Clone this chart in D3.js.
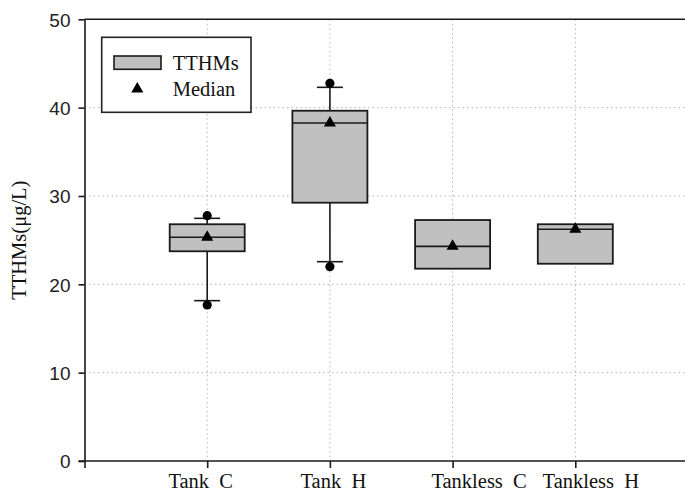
<!DOCTYPE html>
<html>
<head>
<meta charset="utf-8">
<script src="https://cdn.jsdelivr.net/npm/d3@7"></script>
<style>
  html, body { margin: 0; padding: 0; background: #fff; }
  svg { display: block; }
</style>
</head>
<body>
<svg id="chart" width="685" height="491"></svg>
<script>
// Groups along the x axis
const categories = ["Tank  C", "Tank  H", "Tankless  C", "Tankless  H"];
// Box statistics per group (µg/L)
const q1Values     = [23.74, 29.24, 21.77, 22.33];
const medianValues = [25.32, 38.26, 24.30, 26.23];
const q3Values     = [26.80, 39.65, 27.28, 26.80];
const whiskerLow   = [18.15, 22.56, null, null];
const whiskerHigh  = [27.47, 42.30, null, null];
const outlierLow   = [17.66, 22.00, null, null];
const outlierHigh  = [27.77, 42.76, null, null];
// Axis ticks
const yTicks = [0, 10, 20, 30, 40, 50];
const gridYTicks = [10, 20, 30, 40];
const legendLabels = ["TTHMs", "Median"];

const svg = d3.select("#chart");
const W = 685, H = 491;

const x = d3.scaleLinear().domain([0, 5]).range([84.5, 698]);
const y = d3.scaleLinear().domain([0, 50]).range([461, 19.3]);
const pos = categories.map((_, i) => i + 1);
const xRight = W;

const serif = "'Liberation Serif', 'Times New Roman', serif";
const sans = "'Liberation Sans', Arial, sans-serif";
const ink = "#1a1a1a";

// Dotted grid
const grid = svg.append("g").attr("stroke", "#b4b4b4").attr("stroke-width", 1)
  .attr("stroke-dasharray", "1.5,3");
grid.selectAll("line.h").data(gridYTicks).join("line").attr("class", "h")
  .attr("x1", x(0)).attr("x2", xRight).attr("y1", d => y(d)).attr("y2", d => y(d));
grid.selectAll("line.v").data(pos).join("line").attr("class", "v")
  .attr("x1", d => x(d)).attr("x2", d => x(d)).attr("y1", y(50)).attr("y2", y(0));

// Top frame line
svg.append("line")
  .attr("x1", x(0)).attr("x2", xRight).attr("y1", y(50)).attr("y2", y(50))
  .attr("stroke", ink).attr("stroke-width", 1.6);

// Y axis
const yAxis = svg.append("g").attr("transform", `translate(${x(0)},0)`)
  .call(d3.axisLeft(y).tickValues(yTicks).tickSize(6).tickSizeOuter(0).tickPadding(8));
yAxis.select(".domain").attr("stroke", ink).attr("stroke-width", 1.6);
yAxis.selectAll(".tick line").attr("stroke", ink).attr("stroke-width", 1.6);
yAxis.selectAll(".tick text").attr("font-family", sans).attr("font-size", 19)
  .attr("fill", "#222").attr("dy", "0.36em");

// X axis (tick at 0 continues the y axis below the baseline)
const labelShift = [-7, 3, 26, 15];
const xAxis = svg.append("g").attr("transform", `translate(0,${y(0)})`)
  .call(d3.axisBottom(x).tickValues([0].concat(pos)).tickSize(7).tickSizeOuter(0)
    .tickFormat(d => d === 0 ? "" : categories[d - 1]));
xAxis.select(".domain").attr("d", `M${x(0) - 6},0H${xRight}`)
  .attr("stroke", ink).attr("stroke-width", 1.6);
xAxis.selectAll(".tick line").attr("stroke", ink).attr("stroke-width", 1.6);
xAxis.selectAll(".tick text")
  .attr("font-family", serif).attr("font-size", 20.5).attr("fill", "#111")
  .attr("y", 27).attr("dy", 0)
  .attr("x", d => d === 0 ? 0 : labelShift[d - 1])
  .style("white-space", "pre");

// Y axis title
svg.append("text")
  .attr("transform", `translate(26,${(y(0) + y(50)) / 2}) rotate(-90)`)
  .attr("text-anchor", "middle")
  .attr("font-family", serif).attr("font-size", 20.5).attr("fill", "#111")
  .text("TTHMs(μg/L)");

// Boxes
const boxW = 75, capW = 26;
const groups = svg.append("g").selectAll("g").data(pos).join("g");

groups.each(function (p, i) {
  const g = d3.select(this);
  const cx = x(p);
  if (whiskerLow[i] != null) {
    g.append("line").attr("x1", cx).attr("x2", cx)
      .attr("y1", y(q1Values[i])).attr("y2", y(whiskerLow[i]))
      .attr("stroke", ink).attr("stroke-width", 1.6);
    g.append("line").attr("x1", cx - capW / 2).attr("x2", cx + capW / 2)
      .attr("y1", y(whiskerLow[i])).attr("y2", y(whiskerLow[i]))
      .attr("stroke", ink).attr("stroke-width", 1.6);
  }
  if (whiskerHigh[i] != null) {
    g.append("line").attr("x1", cx).attr("x2", cx)
      .attr("y1", y(q3Values[i])).attr("y2", y(whiskerHigh[i]))
      .attr("stroke", ink).attr("stroke-width", 1.6);
    g.append("line").attr("x1", cx - capW / 2).attr("x2", cx + capW / 2)
      .attr("y1", y(whiskerHigh[i])).attr("y2", y(whiskerHigh[i]))
      .attr("stroke", ink).attr("stroke-width", 1.6);
  }
  g.append("rect")
    .attr("x", cx - boxW / 2).attr("width", boxW)
    .attr("y", y(q3Values[i])).attr("height", y(q1Values[i]) - y(q3Values[i]))
    .attr("fill", "#c0c0c0").attr("stroke", ink).attr("stroke-width", 1.8);
  g.append("line").attr("x1", cx - boxW / 2).attr("x2", cx + boxW / 2)
    .attr("y1", y(medianValues[i])).attr("y2", y(medianValues[i]))
    .attr("stroke", ink).attr("stroke-width", 1.6);
  [outlierLow[i], outlierHigh[i]].forEach(v => {
    if (v != null) {
      g.append("circle").attr("cx", cx).attr("cy", y(v)).attr("r", 4.6).attr("fill", "#000");
    }
  });
  g.append("path")
    .attr("transform", `translate(${cx},${y(medianValues[i])})`)
    .attr("d", d3.symbol(d3.symbolTriangle, 64)())
    .attr("fill", "#000");
});

// Legend
const lg = svg.append("g");
lg.append("rect").attr("x", 101.7).attr("y", 37.3).attr("width", 149.3).attr("height", 75)
  .attr("fill", "#fff").attr("stroke", "#222").attr("stroke-width", 1.6);
lg.append("rect").attr("x", 114).attr("y", 56).attr("width", 47).attr("height", 13.3)
  .attr("fill", "#c0c0c0").attr("stroke", ink).attr("stroke-width", 1.6);
lg.append("path").attr("transform", "translate(137.3,89)")
  .attr("d", d3.symbol(d3.symbolTriangle, 64)()).attr("fill", "#000");
lg.selectAll("text").data(legendLabels).join("text")
  .attr("x", 172.7).attr("y", (d, i) => i === 0 ? 70 : 95.7)
  .attr("font-family", serif).attr("font-size", 20.5).attr("fill", "#111")
  .text(d => d);
</script>
</body>
</html>
